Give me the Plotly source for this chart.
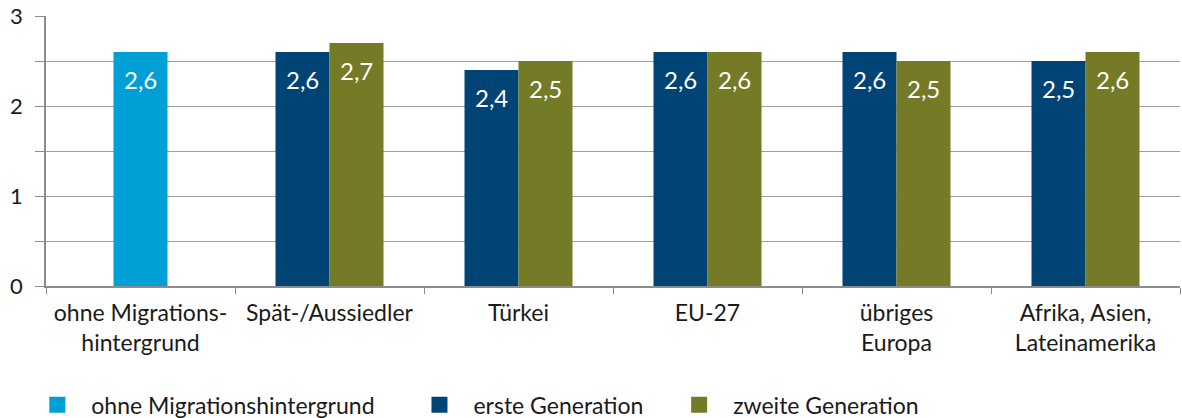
import plotly.graph_objects as go

categories = ["ohne Migrations-<br>hintergrund", "Spät-/Aussiedler", "Türkei", "EU-27",
              "übriges<br>Europa", "Afrika, Asien,<br>Lateinamerika"]
ohne_cats = categories[:1]
ohne_vals = [2.6]
gen_cats = categories[1:]
erste_vals = [2.6, 2.4, 2.6, 2.6, 2.5]
zweite_vals = [2.7, 2.5, 2.6, 2.5, 2.6]

FONT = "Lato"
C_OHNE = "#009FD6"
C_ERSTE = "#004375"
C_ZWEITE = "#757A27"
BW = 54 / 189

fig = go.Figure()
series = [
    ("ohne Migrationshintergrund", ohne_cats, ohne_vals, C_OHNE, -BW / 2, 0, "legend"),
    ("erste Generation", gen_cats, erste_vals, C_ERSTE, -BW, -27, "legend2"),
    ("zweite Generation", gen_cats, zweite_vals, C_ZWEITE, 0, 27, "legend3"),
]
annotations = []
for name, xs, ys, col, off, xsh, leg in series:
    fig.add_bar(x=xs, y=ys, name=name, marker_color=col, offset=off, width=BW,
                marker_line_width=0, showlegend=False)
    # legend proxy (no data points)
    fig.add_scatter(x=[None], y=[None], mode="markers", name=name, legend=leg,
                    marker=dict(symbol="square", size=22, color=col), showlegend=True)
    for xv, yv in zip(xs, ys):
        annotations.append(dict(x=xv, y=yv, xref="x", yref="y",
                                text=f"{yv:.1f}".replace(".", ","), showarrow=False,
                                xshift=xsh, yshift=-27,
                                font=dict(color="white", size=24, family=FONT)))

leg_common = dict(orientation="h", xanchor="left", y=-0.44, yanchor="middle",
                  font=dict(size=23, family=FONT, color="#1a1a1a"), itemwidth=58,
                  bgcolor="rgba(0,0,0,0)")
fig.update_layout(
    width=1182, height=418,
    barmode="overlay",
    separators=", ",
    paper_bgcolor="white", plot_bgcolor="white",
    margin=dict(l=46, r=2, t=16, b=132, autoexpand=False),
    font=dict(family=FONT, size=21, color="#1a1a1a"),
    annotations=annotations,
    legend=dict(x=-0.020, **leg_common),
    legend2=dict(x=0.317, **leg_common),
    legend3=dict(x=0.546, **leg_common),
    xaxis=dict(categoryorder="array", categoryarray=categories, range=[-0.5, 5.5],
               showline=True, linecolor="#8c8c8c", linewidth=1.5,
               ticks="outside", tickson="boundaries", ticklen=6, tickcolor="#8c8c8c",
               tickfont=dict(size=23, family=FONT), showgrid=False, automargin=False,
               ticklabelstandoff=6),
    yaxis=dict(range=[0, 3], dtick=1, showline=True, linecolor="#8c8c8c", linewidth=1.5,
               ticks="outside", ticklen=9, tickcolor="#8c8c8c",
               showgrid=True, gridcolor="#a0a0a0", gridwidth=1,
               zeroline=False, ticklabelstandoff=8, automargin=False,
               tickfont=dict(size=22, family=FONT),
               minor=dict(dtick=0.5, ticks="outside", ticklen=9, tickcolor="#8c8c8c",
                          showgrid=True, gridcolor="#a0a0a0", gridwidth=1)),
)

fig.write_html("out.html", config={"displayModeBar": False},
               post_script="document.body.style.margin='0';")
